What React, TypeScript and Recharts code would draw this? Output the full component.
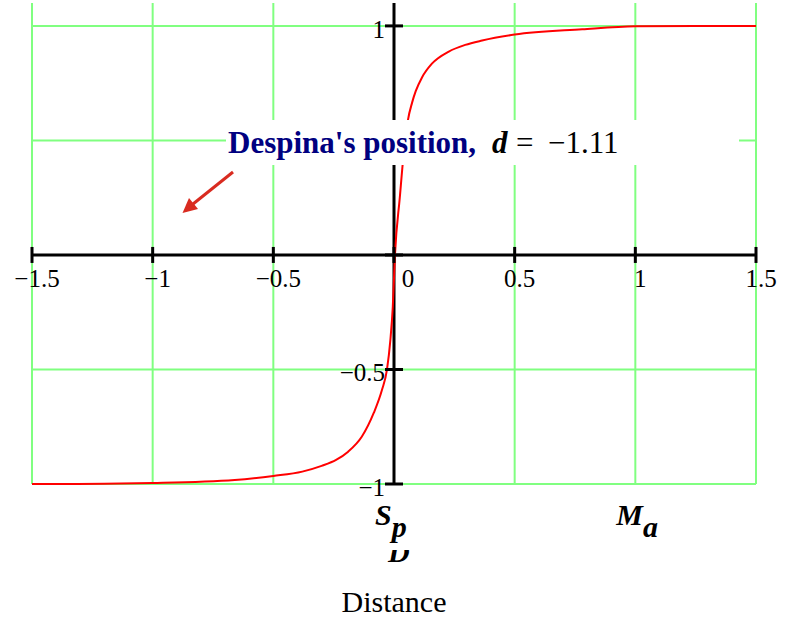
import { LineChart, Line, XAxis, YAxis, ReferenceLine, ReferenceDot } from 'recharts'

const distance = [
  -1.5, -1.2, -1.0, -0.66, -0.5, -0.38, -0.3, -0.24, -0.19, -0.133, -0.084, -0.05, -0.029, -0.015, -0.005,
  0.004, 0.024, 0.04, 0.058, 0.075, 0.09, 0.116, 0.157, 0.227, 0.295, 0.365, 0.5, 0.78, 1.0, 1.25, 1.5,
]
const force = [
  -1.0, -0.999, -0.996, -0.983, -0.965, -0.946, -0.921, -0.895, -0.859, -0.793, -0.69, -0.59, -0.5, -0.371, -0.226,
  0, 0.25, 0.44, 0.59, 0.665, 0.715, 0.775, 0.835, 0.888, 0.917, 0.936, 0.962, 0.985, 0.998, 1.0, 1.0,
]

const xTicks = [-1.5, -1, -0.5, 0, 0.5, 1, 1.5]
const yTicks = [-1, -0.5, 0, 0.5, 1]
const yLabelTicks = [1, -0.5, -1]
const bodyTicks = [0, 1]
const bodyMain = ['S', 'M']
const bodySub = ['p', 'a']

const GRID = '#80ff80'
const SERIF = '"Liberation Serif", "Times New Roman", serif'

const data = distance.map((x, i) => ({ x, y: force[i] }))

const fmt = (v: number) => (v < 0 ? '\u2212' + Math.abs(v) : String(v))

function XTickMark(props: any) {
  const { cx, cy, value } = props
  return (
    <g>
      <line x1={cx} x2={cx} y1={cy - 8} y2={cy + 8} stroke="#000" strokeWidth={3} />
      <text x={cx + (value === 0 ? 14 : 5)} y={cy + 32} textAnchor="middle" fontFamily={SERIF} fontSize={25} fill="#000">
        {fmt(value)}
      </text>
    </g>
  )
}

function YTickMark(props: any) {
  const { cx, cy, value, showLabel } = props
  return (
    <g>
      <line x1={cx - 9} x2={cx + 9} y1={cy} y2={cy} stroke="#000" strokeWidth={3} />
      {showLabel && (
        <text x={cx - 9} y={cy + 12} textAnchor="end" fontFamily={SERIF} fontSize={25} fill="#000">
          {fmt(value)}
        </text>
      )}
    </g>
  )
}

function BodyTick(props: any) {
  const { x, y, payload } = props
  const i = bodyTicks.indexOf(payload.value)
  return (
    <g fontFamily={SERIF} fontWeight="bold" fontStyle="italic" fontSize={30} fill="#000">
      {i === 0 && (
        <>
          <text x={x - 6} y={y + 76}>D</text>
          <rect x={x - 12} y={y + 50} width={34} height={14} fill="#fff" />
        </>
      )}
      <text x={x - 19} y={y + 39}>
        {bodyMain[i]}
        <tspan dy={12}>{bodySub[i]}</tspan>
      </text>
    </g>
  )
}

export default function App() {
  return (
    <div style={{ position: 'absolute', left: 0, top: 0, width: 795, height: 623, background: '#fff' }}>
      <LineChart width={795} height={623} data={data} margin={{ top: 3, right: 39, left: 32, bottom: 9 }}>
        <XAxis
          dataKey="x"
          type="number"
          domain={[-1.5, 1.5]}
          ticks={bodyTicks}
          tick={<BodyTick />}
          axisLine={false}
          tickLine={false}
          tickSize={0}
          height={130}
          label={{ value: 'Distance', position: 'insideBottom', offset: 2, fontFamily: SERIF, fontSize: 30, fill: '#000' }}
        />
        <YAxis type="number" domain={[-1, 1.1]} hide />
        {xTicks.map((v) => (
          <ReferenceLine key={'gx' + v} x={v} stroke={GRID} strokeWidth={2} />
        ))}
        {yTicks.map((v) => (
          <ReferenceLine key={'gy' + v} y={v} stroke={GRID} strokeWidth={2} />
        ))}
        <ReferenceLine y={0} stroke="#000" strokeWidth={3} />
        <ReferenceLine x={0} stroke="#000" strokeWidth={3} />
        <Line dataKey="y" type="monotone" stroke="#ff0000" strokeWidth={2} dot={false} isAnimationActive={false} />
        {xTicks.map((v) => (
          <ReferenceDot key={'tx' + v} x={v} y={0} ifOverflow="visible" shape={(p: any) => <XTickMark {...p} value={v} />} />
        ))}
        {yTicks.map((v) => (
          <ReferenceDot
            key={'ty' + v}
            x={0}
            y={v}
            ifOverflow="visible"
            shape={(p: any) => <YTickMark {...p} value={v} showLabel={yLabelTicks.includes(v)} />}
          />
        ))}
      </LineChart>
      <svg width={795} height={623} style={{ position: 'absolute', left: 0, top: 0, pointerEvents: 'none' }}>
        <rect x={226} y={120} width={513} height={45} fill="#fff" />
        <text y={153} fontFamily={SERIF} fontSize={31}>
          <tspan x={228} fontWeight="bold" fill="#000080">Despina's position,</tspan>
          <tspan x={492} fontWeight="bold" fontStyle="italic" fill="#000">d</tspan>
          <tspan x={516} fill="#000">=</tspan>
          <tspan x={548} fill="#000">{'\u22121.11'}</tspan>
        </text>
        <line x1={233} y1={172} x2={193} y2={204} stroke="#d92b20" strokeWidth={3} />
        <polygon points="182.5,213 189,198 198,209" fill="#d92b20" />
      </svg>
    </div>
  )
}
